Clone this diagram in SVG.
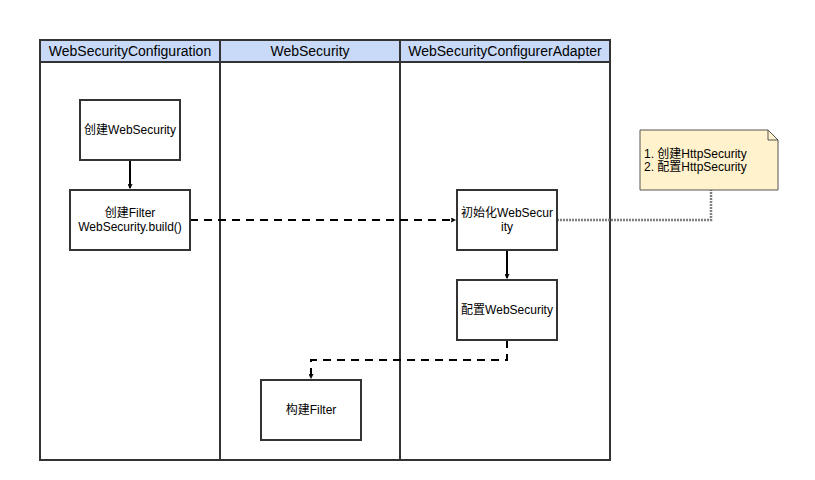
<svg xmlns="http://www.w3.org/2000/svg" width="815" height="480" viewBox="0 0 815 480">
<defs>
<style>
.lane{fill:#ffffff;stroke:#333333;stroke-width:2}
.hdr{fill:#c9daf8;stroke:#333333;stroke-width:2}
.box{fill:#ffffff;stroke:#333333;stroke-width:2}
.ht{font-family:"Liberation Sans",Arial,sans-serif;font-size:14px;fill:#000;text-anchor:middle}
.t{font-family:"Liberation Sans","Noto Sans CJK SC",sans-serif;font-size:12px;fill:#000;text-anchor:middle}
.nt{font-family:"Liberation Sans","Noto Sans CJK SC",sans-serif;font-size:12px;fill:#000}
.solid{fill:none;stroke:#000;stroke-width:2}
.dash{fill:none;stroke:#000;stroke-width:2;stroke-dasharray:8 6}
.dot{fill:none;stroke:#808080;stroke-width:2.5;stroke-dasharray:2 1}
</style>
<marker id="arr" viewBox="0 0 10 10" refX="9" refY="5" markerWidth="5" markerHeight="5" orient="auto" markerUnits="userSpaceOnUse">
<path d="M0,0 L10,5 L0,10 L3,5 z" fill="#000" stroke="#000" stroke-width="1"/>
</marker>
</defs>
<rect width="815" height="480" fill="#ffffff"/>
<g id="pool">
<rect class="lane" x="40" y="40" width="180" height="420"/>
<rect class="lane" x="220" y="40" width="180" height="420"/>
<rect class="lane" x="400" y="40" width="210" height="420"/>
<rect class="hdr" x="40" y="40" width="180" height="22"/>
<rect class="hdr" x="220" y="40" width="180" height="22"/>
<rect class="hdr" x="400" y="40" width="210" height="22"/>
<text class="ht" x="130" y="56">WebSecurityConfiguration</text>
<text class="ht" x="310" y="56">WebSecurity</text>
<text class="ht" x="505" y="56">WebSecurityConfigurerAdapter</text>
</g>
<g id="connectors">
<path class="solid" d="M130,160 L130,188" marker-end="url(#arr)"/>
<path class="dash" d="M190,220 L455,220" marker-end="url(#arr)"/>
<path class="solid" d="M507,250 L507,278" marker-end="url(#arr)"/>
<path class="dash" d="M507,340 L507,360 L311,360 L311,378" marker-end="url(#arr)"/>
<path class="dot" d="M557,220 L711,220 L711,190"/>
</g>
<g id="n1"><rect class="box" x="80" y="100" width="100" height="60"/><text class="t" x="130" y="134">创建WebSecurity</text></g>
<g id="n2"><rect class="box" x="70" y="190" width="120" height="60"/><text class="t" x="130" y="217">创建Filter</text><text class="t" x="130" y="231">WebSecurity.build()</text></g>
<g id="n3"><rect class="box" x="457" y="190" width="100" height="60"/><text class="t" x="507" y="217">初始化WebSecur</text><text class="t" x="507" y="231">ity</text></g>
<g id="n4"><rect class="box" x="457" y="280" width="100" height="60"/><text class="t" x="507" y="314">配置WebSecurity</text></g>
<g id="n5"><rect class="box" x="261" y="380" width="100" height="60"/><text class="t" x="311" y="414">构建Filter</text></g>
<g id="note"><path d="M640,130 L768,130 L778,140 L778,190 L640,190 Z" fill="#fff2cc" stroke="#555555" stroke-width="1"/><path d="M768,130 L768,140 L778,140" fill="none" stroke="#555555" stroke-width="1"/><text class="nt" x="644" y="158">1. 创建HttpSecurity</text><text class="nt" x="644" y="171">2. 配置HttpSecurity</text></g>
</svg>
